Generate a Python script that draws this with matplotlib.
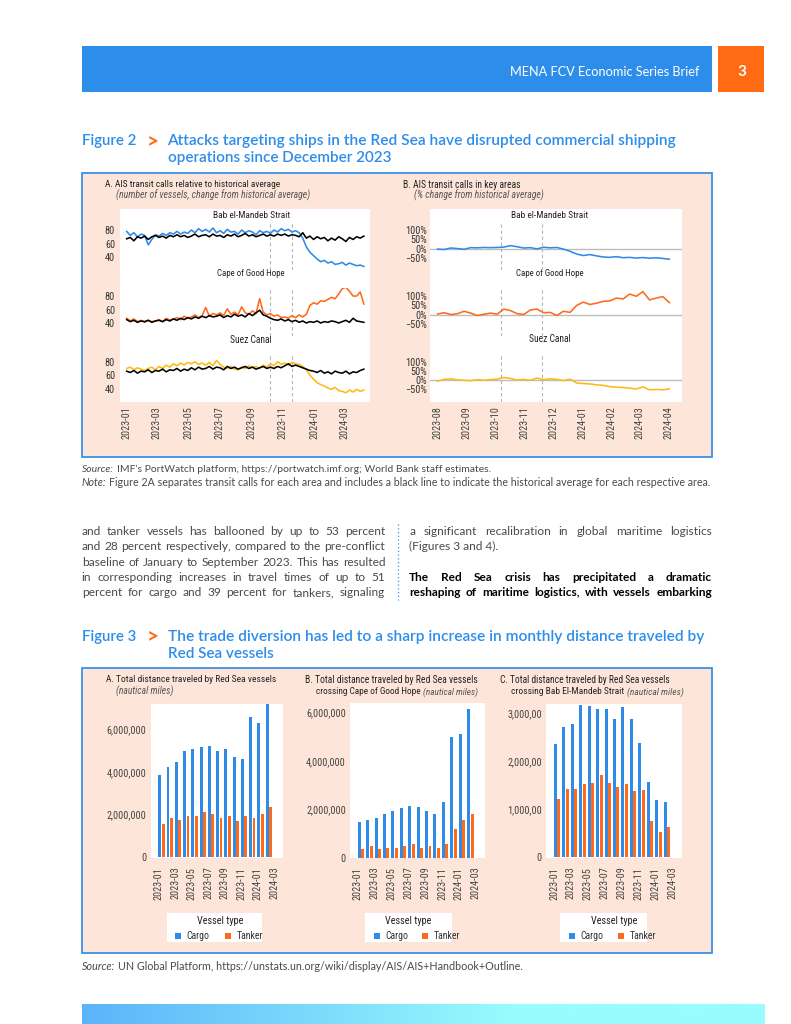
import numpy as np
import pandas as pd
import matplotlib
matplotlib.use('Agg')
import matplotlib.pyplot as plt
from matplotlib.patches import Rectangle
from matplotlib import font_manager
from matplotlib.font_manager import FontProperties

# ---------------------------------------------------------------- DATA
# Figure 2A: weekly AIS transit calls (number of vessels), weeks from 2023-01-01
fig2a_start = '2023-01-01'
bab_calls = [78, 72, 76, 70, 74, 72, 58, 66, 73, 71, 75, 72, 76, 74, 78, 74, 77, 75,
             80, 76, 82, 78, 81, 77, 83, 76, 79, 75, 81, 77, 78, 74, 80, 76, 79, 77,
             73, 79, 76, 78, 75, 80, 77, 82, 79, 81, 77, 79, 76, 68, 55, 47, 42, 37,
             33, 35, 31, 33, 29, 30, 32, 28, 31, 29, 27, 28, 26]
bab_hist = [67, 69, 64, 70, 68, 71, 66, 70, 72, 69, 71, 68, 72, 70, 73, 70, 72, 69,
            71, 74, 70, 72, 73, 70, 74, 71, 72, 69, 73, 71, 74, 70, 72, 75, 71, 73,
            70, 72, 74, 71, 73, 71, 74, 72, 74, 71, 73, 72, 70, 76, 68, 71, 66, 70,
            67, 69, 64, 68, 65, 70, 67, 63, 69, 66, 70, 68, 71]
cape_calls = [47, 43, 46, 42, 44, 41, 44, 42, 43, 45, 42, 47, 44, 46, 48, 45, 50, 47,
              49, 52, 48, 51, 63, 50, 54, 52, 55, 51, 61, 53, 56, 52, 64, 55, 53, 58,
              54, 76, 56, 52, 54, 50, 52, 48, 49, 47, 51, 48, 52, 49, 53, 66, 70, 68,
              73, 72, 75, 78, 76, 83, 91, 93, 87, 80, 80, 86, 68]
cape_hist = [45, 42, 44, 41, 43, 42, 44, 41, 43, 44, 42, 45, 43, 46, 44, 47, 45, 48,
             46, 49, 47, 50, 48, 51, 49, 50, 52, 48, 51, 49, 53, 50, 52, 49, 54, 51,
             55, 59, 52, 50, 47, 45, 44, 46, 43, 45, 42, 44, 41, 43, 40, 42, 41, 43,
             40, 42, 41, 43, 42, 40, 42, 44, 41, 47, 43, 42, 41]
suez_calls = [70, 72, 68, 71, 69, 67, 70, 72, 68, 73, 70, 75, 72, 77, 74, 78, 75, 79,
              77, 80, 76, 78, 75, 79, 74, 82, 76, 72, 70, 73, 69, 68, 72, 70, 74, 71,
              73, 70, 75, 72, 77, 74, 80, 76, 78, 75, 79, 77, 76, 73, 68, 60, 54, 49,
              46, 44, 41, 39, 42, 37, 36, 34, 38, 35, 39, 36, 38]
suez_hist = [66, 64, 67, 63, 66, 65, 68, 64, 67, 66, 69, 65, 68, 67, 70, 66, 69, 67,
             71, 68, 72, 69, 70, 73, 69, 72, 71, 68, 73, 70, 72, 69, 71, 73, 70, 72,
             69, 71, 73, 70, 72, 70, 73, 71, 74, 77, 73, 75, 73, 71, 69, 67, 66, 64,
             67, 63, 65, 62, 66, 64, 63, 66, 62, 65, 64, 67, 69]

# Figure 2B: weekly % change from historical average, weeks from 2023-08-01
fig2b_start = '2023-08-01'
bab_pct = [-3, -5, 3, 0, -4, 5, 4, 6, 5, 6, 8, 16, 10, 3, 5, -2, 7, 4, 6, -3, -15,
           -30, -38, -33, -40, -46, -48, -44, -50, -48, -52, -49, -53, -50, -54, -58]
cape_pct = [3, 10, 0, 5, 18, 8, -5, 2, 8, 2, 30, 22, 5, 0, 25, 30, 10, 12, -5, 18,
            12, 50, 68, 55, 62, 72, 75, 90, 85, 112, 100, 125, 80, 90, 98, 65]
suez_pct = [-5, 5, 8, 2, 0, -2, 3, 0, 4, 6, 15, 10, 2, 5, 0, 12, 3, 8, 5, -2, 6,
            -15, -18, -20, -25, -28, -35, -38, -40, -43, -48, -36, -52, -50, -52, -47]

event_dates = ['2023-10-07', '2023-11-19']
fig2a_ticks = ['2023-01', '2023-03', '2023-05', '2023-07', '2023-09', '2023-11',
               '2024-01', '2024-03']
fig2b_ticks = ['2023-08', '2023-09', '2023-10', '2023-11', '2023-12', '2024-01',
               '2024-02', '2024-03', '2024-04']

# Figure 3: monthly distance travelled (nautical miles), 2023-01 .. 2024-02
months3 = ['2023-01', '2023-02', '2023-03', '2023-04', '2023-05', '2023-06', '2023-07',
           '2023-08', '2023-09', '2023-10', '2023-11', '2023-12', '2024-01', '2024-02']
tick3 = ['2023-01', '2023-03', '2023-05', '2023-07', '2023-09', '2023-11', '2024-01',
         '2024-03']
redsea_cargo = [3850000, 4220000, 4460000, 4970000, 5100000, 5160000, 5240000,
                5000000, 5080000, 4700000, 4630000, 6600000, 6340000, 7300000]
redsea_tanker = [1550000, 1850000, 1750000, 1900000, 1900000, 2130000, 2040000,
                 1820000, 1930000, 1700000, 1900000, 1850000, 2040000, 2370000]
cape_cargo = [1490000, 1550000, 1640000, 1790000, 1940000, 2040000, 2130000,
              2090000, 1930000, 1820000, 2280000, 4970000, 5090000, 6120000]
cape_tanker = [360000, 480000, 360000, 410000, 410000, 480000, 560000,
               400000, 500000, 410000, 560000, 1180000, 1550000, 1820000]
bab_cargo = [2360000, 2720000, 2780000, 3170000, 3150000, 3100000, 3100000,
             2880000, 3130000, 2880000, 2380000, 1570000, 1200000, 1160000]
bab_tanker = [1220000, 1420000, 1420000, 1520000, 1550000, 1720000, 1550000,
              1470000, 1520000, 1380000, 1410000, 755000, 520000, 640000]

# ---------------------------------------------------------------- STYLE
W, H = 791, 1024
HDR_BLUE = '#2C8DEA'
ORANGE = '#FF6A13'
PEACH = '#FDE6D9'
BORDER = '#3C91E8'
C_BLUE = '#2E8BE7'
C_ORANGE = '#FF6A1A'
C_YELLOW = '#FDBA12'
TXT = '#4a4a4a'
BODY = ['Lato', 'DejaVu Sans']


def _w(f):
    w = f.weight
    if isinstance(w, (int, float)):
        return int(w)
    return {'normal': 400, 'regular': 400, 'book': 400, 'medium': 500}.get(str(w), 700)


def find_condensed(style):
    pref = ['Liberation Sans Narrow', 'Arial Narrow', 'Roboto Condensed',
            'Noto Sans', 'DejaVu Sans', 'Open Sans', 'Roboto', 'Liberation Sans']
    best, best_rank = None, 1e9
    for f in font_manager.fontManager.ttflist:
        st = str(f.stretch).lower()
        nm = f.name
        cond = (st in ('condensed', 'semi-condensed') or 'Narrow' in nm
                or 'Condensed' in nm)
        if not cond or 'Extra' in nm or 'Ultra' in nm:
            continue
        if f.style != style or _w(f) != 400:
            continue
        base = nm.replace(' Condensed', '')
        rank = pref.index(nm) if nm in pref else (pref.index(base) + 0.5 if base in pref else 50)
        if st == 'semi-condensed':
            rank += 0.3
        if rank < best_rank:
            best, best_rank = f, rank
    return best


_cn = find_condensed('normal')
_ci = find_condensed('italic')
HAVE_COND = _cn is not None


def cp(italic=False):
    if italic and _ci is not None:
        return FontProperties(fname=_ci.fname)
    if not italic and _cn is not None:
        return FontProperties(fname=_cn.fname)
    return FontProperties(family=['Liberation Sans', 'DejaVu Sans'],
                          style='italic' if italic else 'normal')


TS = 7.4 if HAVE_COND else 6.8        # tick label size

fig = plt.figure(figsize=(W / 100, H / 100), dpi=100)
bg = fig.add_axes([0, 0, 1, 1])
bg.set_xlim(0, W)
bg.set_ylim(H, 0)
bg.axis('off')
R = fig.canvas.get_renderer()


def ax_at(x0, y0, x1, y1):
    return fig.add_axes([x0 / W, 1 - y1 / H, (x1 - x0) / W, (y1 - y0) / H])


def txt(x, y, s, size, target=None, ha='left', va='center', **kw):
    t = bg.text(x, y, s, ha=ha, va=va, **kw)
    t.set_fontsize(size)
    if target:
        w = t.get_window_extent(R).width
        t.set_fontsize(size * target / w)
    return t


def runs(x, y, parts, size, target=None, va='center'):
    ts = []
    for s, kw in parts:
        t = bg.text(0, y, s, ha='left', va=va, **kw)
        t.set_fontsize(size)
        ts.append(t)
    ws = [t.get_window_extent(R).width for t in ts]
    gap = 0.27 * size * 100 / 72
    sc = 1.0
    if target:
        sc = target / (sum(ws) + gap * (len(ts) - 1))
    for t in ts:
        t.set_fontsize(size * sc)
    ws = [t.get_window_extent(R).width for t in ts]
    cx = x
    for t, w in zip(ts, ws):
        t.set_x(cx)
        cx += w + gap * sc
    return ts


def justify(x0, x1, y, line, size, **kw):
    words = line.split()
    ts = [bg.text(0, y, w_, fontsize=size, ha='left', va='center', **kw) for w_ in words]
    ws = [t.get_window_extent(R).width for t in ts]
    total = sum(ws)
    minsp = 0.18 * size * 100 / 72
    span = x1 - x0
    if total + minsp * (len(words) - 1) > span:
        sc = (span - minsp * (len(words) - 1)) / total
        for t in ts:
            t.set_fontsize(size * sc)
        ws = [t.get_window_extent(R).width for t in ts]
        total = sum(ws)
    gap = (span - total) / (len(words) - 1)
    cx = x0
    for t, w in zip(ts, ws):
        t.set_x(cx)
        cx += w + gap


def style_ticks(ax):
    for lab in ax.get_yticklabels() + ax.get_xticklabels():
        lab.set_fontproperties(cp())
        lab.set_fontsize(TS)


# ---------------------------------------------------------------- PAGE HEADER
bg.add_patch(Rectangle((82, 46), 630, 46, fc=HDR_BLUE, ec='none'))
bg.add_patch(Rectangle((718, 46), 46, 46, fc=ORANGE, ec='none'))
txt(699, 71.5, 'MENA FCV Economic Series Brief', 9, target=191, ha='right',
    color='white', family=BODY)
txt(742, 71.5, '3', 11, ha='center', color='white', weight='bold', family=BODY)

# footer gradient
grad = np.linspace(0, 1, 256)
cL = np.array([90, 180, 250]) / 255
cR = np.array([152, 251, 253]) / 255
g = np.clip(grad * 1.6, 0, 1)[None, :, None]
img = cL[None, None, :] * (1 - g) + cR[None, None, :] * g
bg.imshow(img, extent=(82, 765, 1024, 1004), aspect='auto', zorder=1)


def fig_title(y1, num, line1, line2, w1, w2):
    txt(82, y1, num, 11, target=54, color=HDR_BLUE, family=BODY, weight='semibold')
    txt(147, y1, '>', 15, target=12, color=ORANGE, family=BODY, weight='bold')
    txt(167.5, y1, line1, 11, target=w1, color=HDR_BLUE, family=BODY,
        weight='semibold')
    txt(167.5, y1 + 17.3, line2, 11, target=w2, color=HDR_BLUE, family=BODY,
        weight='semibold')


fig_title(141, 'Figure 2',
          'Attacks targeting ships in the Red Sea have disrupted commercial shipping',
          'operations since December 2023', 505.5, 222.5)

# ---------------------------------------------------------------- FIGURE 2 BOX
bg.add_patch(Rectangle((82, 173), 630, 284, fc=PEACH, ec=BORDER, lw=1.3))
bg.add_patch(Rectangle((120, 209), 250, 192.7, fc='white', ec='none'))
bg.add_patch(Rectangle((430, 209), 251.7, 192.7, fc='white', ec='none'))

txt(105, 184.7, 'A. AIS transit calls relative to historical average', 7,
    target=177, color='#222', fontproperties=cp())
txt(116, 195.7, '(number of vessels, change from historical average)', 7,
    target=194, color='#555', fontproperties=cp(True))
txt(403.3, 184.7, 'B. AIS transit calls in key areas', 7, target=118.4,
    color='#222', fontproperties=cp())
txt(414, 195.7, '(% change from historical average)', 7, target=130,
    color='#555', fontproperties=cp(True))

datesA = pd.date_range(fig2a_start, periods=len(bab_calls), freq='7D')
datesB = pd.date_range(fig2b_start, periods=len(bab_pct), freq='7D')
ev = [pd.Timestamp(d) for d in event_dates]

facet_tops = [222, 288, 353.7]
strip_y_A = [215.7, 274, 340]
strip_y_B = [216, 273.7, 339.3]
strips = [('Bab el-Mandeb Strait', 77), ('Cape of Good Hope', 69), ('Suez Canal', 42)]

seriesA = [(bab_calls, bab_hist, C_BLUE), (cape_calls, cape_hist, C_ORANGE),
           (suez_calls, suez_hist, C_YELLOW)]
seriesB = [(bab_pct, C_BLUE), (cape_pct, C_ORANGE), (suez_pct, C_YELLOW)]

for i in range(3):
    top = facet_tops[i]
    # ---- panel A facet
    ax = ax_at(120, top, 370, top + 48)
    ax.patch.set_alpha(0)
    cur, hist, col = seriesA[i]
    for d in ev:
        ax.axvline(d, color='#b5b5b5', lw=0.8, ls=(0, (3, 2.5)), zorder=1)
    ax.plot(datesA, cur, color=col, lw=1.15, zorder=3)
    ax.plot(datesA, hist, color='black', lw=1.15, zorder=4)
    ax.set_xlim(pd.Timestamp('2022-12-19'), pd.Timestamp('2024-04-19'))
    ax.set_ylim(20.7, 91.9)
    ax.set_yticks([40, 60, 80])
    ax.set_yticklabels(['40', '60', '80'])
    for s in ax.spines.values():
        s.set_visible(False)
    ax.tick_params(length=0, colors='#333', pad=3.6)
    if i < 2:
        ax.set_xticks([])
    else:
        ax.set_xticks([pd.Timestamp(t + '-01') for t in fig2a_ticks])
        ax.set_xticklabels(fig2a_ticks, rotation=90, color='#444')
        ax.tick_params(axis='x', pad=3.5)
    style_ticks(ax)
    txt(251.3, strip_y_A[i], strips[i][0], 7, target=strips[i][1], ha='center',
        color='#222', fontproperties=cp())

    # ---- panel B facet
    bx = ax_at(430, top, 681.7, top + 48)
    bx.patch.set_alpha(0)
    pct, colb = seriesB[i]
    bx.axhline(0, color='#bdbdbd', lw=1.0, zorder=1)
    for d in ev:
        bx.axvline(d, color='#b5b5b5', lw=0.8, ls=(0, (3, 2.5)), zorder=1)
    bx.plot(datesB, pct, color=colb, lw=1.15, zorder=3)
    bx.set_xlim(pd.Timestamp('2023-07-24'), pd.Timestamp('2024-04-15'))
    bx.set_ylim(-117, 145)
    bx.set_yticks([-50, 0, 50, 100])
    bx.set_yticklabels(['\u221250%', '0%', '50%', '100%'])
    for s in bx.spines.values():
        s.set_visible(False)
    bx.tick_params(length=0, colors='#333', pad=2.4)
    if i < 2:
        bx.set_xticks([])
    else:
        bx.set_xticks([pd.Timestamp(t + '-01') for t in fig2b_ticks])
        bx.set_xticklabels(fig2b_ticks, rotation=90, color='#444')
        bx.tick_params(axis='x', pad=3.5)
    style_ticks(bx)
    txt(550, strip_y_B[i], strips[i][0], 7, target=strips[i][1], ha='center',
        color='#222', fontproperties=cp())

runs(81.7, 470, [('Source:', dict(style='italic', color=TXT, family=BODY)),
                 ("IMF's PortWatch platform, https://portwatch.imf.org; World Bank staff estimates.",
                  dict(color=TXT, family=BODY))], 6.5, target=407)
runs(81.7, 482.5, [('Note:', dict(style='italic', color=TXT, family=BODY)),
                   ('Figure 2A separates transit calls for each area and includes a black line '
                    'to indicate the historical average for each respective area.',
                    dict(color=TXT, family=BODY))], 6.5, target=626)

# ---------------------------------------------------------------- BODY TEXT
left_lines = ['and tanker vessels has ballooned by up to 53 percent',
              'and 28 percent respectively, compared to the pre-conflict',
              'baseline of January to September 2023. This has resulted',
              'in corresponding increases in travel times of up to 51',
              'percent for cargo and 39 percent for tankers, signaling']
ys = [531.7, 546.9, 562.1, 577.5, 592.7]
for y, ln in zip(ys, left_lines):
    justify(81.7, 385.3, y, ln, 8.6, color=TXT, family=BODY)
justify(409.3, 712, 531.7, 'a significant recalibration in global maritime logistics',
        8.6, color=TXT, family=BODY)
txt(409.3, 546.9, '(Figures 3 and 4).', 8.6, color=TXT, family=BODY)
justify(409.3, 712, 577.5, 'The Red Sea crisis has precipitated a dramatic', 8.6,
        color='black', family=BODY, weight='bold')
justify(409.3, 712, 592.7, 'reshaping of maritime logistics, with vessels embarking', 8.6,
        color='black', family=BODY, weight='bold')
bg.plot([397.8, 397.8], [524, 600], color=BORDER, lw=0.9, ls=(0, (1, 2)))

# ---------------------------------------------------------------- FIGURE 3
fig_title(636.7, 'Figure 3',
          'The trade diversion has led to a sharp increase in monthly distance traveled by',
          'Red Sea vessels', 533.5, 105.5)
bg.add_patch(Rectangle((82, 668), 630, 285, fc=PEACH, ec=BORDER, lw=1.3))

panels3 = [
    dict(box=(150.7, 704.3, 283.3, 858.3), ylim=(-76000, 7200000),
         yt=[0, 2000000, 4000000, 6000000],
         yl=['0', '2,000,000', '4,000,000', '6,000,000'],
         cargo=redsea_cargo, tanker=redsea_tanker),
    dict(box=(350, 703.3, 485, 858.3), ylim=(-25000, 6370000),
         yt=[0, 2000000, 4000000, 6000000],
         yl=['0', '2,000,000', '4,000,000', '6,000,000'],
         cargo=cape_cargo, tanker=cape_tanker),
    dict(box=(546, 704.3, 681.7, 858.3), ylim=(-20000, 3190000),
         yt=[0, 1000000, 2000000, 3000000],
         yl=['0', '1,000,00', '2,000,00', '3,000,00'],
         cargo=bab_cargo, tanker=bab_tanker),
]
xpos = np.arange(len(months3))
for p in panels3:
    x0, y0, x1, y1 = p['box']
    ax = ax_at(x0, y0, x1, y1)
    ax.set_facecolor('white')
    ax.bar(xpos + 0.15, p['cargo'], width=0.35, color=C_BLUE, zorder=2)
    ax.bar(xpos + 0.56, p['tanker'], width=0.35, color=C_ORANGE, zorder=2)
    ax.set_xlim(-0.95, 15.1)
    ax.set_ylim(*p['ylim'])
    ax.set_yticks(p['yt'])
    ax.set_yticklabels(p['yl'], color='#444')
    ax.set_xticks(np.arange(0, 15, 2))
    ax.set_xticklabels(tick3, rotation=90, color='#444')
    for s in ax.spines.values():
        s.set_visible(False)
    ax.tick_params(length=0, pad=3.0)
    ax.tick_params(axis='x', pad=6.0)
    style_ticks(ax)

# panel headers
txt(106, 680, 'A. Total distance traveled by Red Sea vessels', 7, target=170.7,
    color='#222', fontproperties=cp())
txt(116, 691.7, '(nautical miles)', 7, target=57.3, color='#555', fontproperties=cp(True))
txt(305, 680, 'B. Total distance traveled by Red Sea vessels', 7, target=172.7,
    color='#222', fontproperties=cp())
runs(315.7, 692, [('crossing Cape of Good Hope', dict(color='#222', fontproperties=cp())),
                  ('(nautical miles)', dict(color='#555', fontproperties=cp(True)))],
     7, target=164.3)
txt(500, 680, 'C. Total distance traveled by Red Sea vessels', 7, target=171.7,
    color='#222', fontproperties=cp())
runs(510.7, 692, [('crossing Bab El-Mandeb Strait', dict(color='#222', fontproperties=cp())),
                  ('(nautical miles)', dict(color='#555', fontproperties=cp(True)))],
     7, target=172)

# legends
legends = [(167.3, 261.7, 220, 178, 186.7, 228, 236.7),
           (365, 451.7, 408.3, 376.7, 385, 425, 434),
           (560, 646.7, 614, 571.7, 580, 621, 630)]
for lx0, lx1, tcx, s1, l1, s2, l2 in legends:
    bg.add_patch(Rectangle((lx0, 912.7), lx1 - lx0, 29, fc='white', ec='none'))
    txt(tcx, 920.5, 'Vessel type', 7, target=47, ha='center', color='#222',
        fontproperties=cp())
    bg.add_patch(Rectangle((s1 - 3, 933), 6, 6, fc=C_BLUE, ec='none'))
    bg.add_patch(Rectangle((s2 - 3, 933), 6, 6, fc=C_ORANGE, ec='none'))
    txt(l1, 936, 'Cargo', 7, target=23, color='#333', fontproperties=cp())
    txt(l2, 936, 'Tanker', 7, target=27, color='#333', fontproperties=cp())

runs(81.7, 966.7, [('Source:', dict(style='italic', color=TXT, family=BODY)),
                   ('UN Global Platform, https://unstats.un.org/wiki/display/AIS/AIS+Handbook+Outline.',
                    dict(color=TXT, family=BODY))], 6.5, target=442)

fig.savefig('out.png', dpi=100)
